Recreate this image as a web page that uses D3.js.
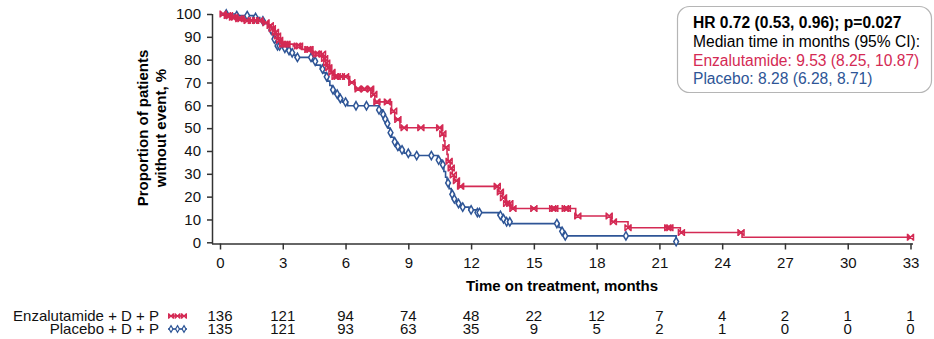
<!DOCTYPE html>
<html>
<head>
<meta charset="utf-8">
<script src="https://cdn.jsdelivr.net/npm/d3@7"></script>
<style>
  body { margin: 0; background: #fff; }
  text { font-family: "Liberation Sans", Arial, sans-serif; }
</style>
</head>
<body>
<svg id="chart" width="934" height="339"></svg>
<script>
var width = 934;
var height = 339;

var red = "#d42a54";
var blue = "#2e5596";

// time axis / number at risk
var months = [0, 3, 6, 9, 12, 15, 18, 21, 24, 27, 30, 33];
var enzaAtRisk = [136, 121, 94, 74, 48, 22, 12, 7, 4, 2, 1, 1];
var placAtRisk = [135, 121, 93, 63, 35, 9, 5, 2, 1, 0, 0, 0];
var yTicks = [0, 10, 20, 30, 40, 50, 60, 70, 80, 90, 100];

// Kaplan-Meier steps: [month, % without event after the step]
var enzaSteps = [[0.25,99.3],[0.5,98.6],[0.8,97.9],[1.1,97.1],[2.1,96.2],[2.3,95],[2.45,93.6],[2.6,92],
  [2.7,90.4],[2.8,88.5],[2.95,86.8],[3.5,86],[3.9,84.5],[4.4,82.5],[4.95,80.5],[5.05,78.5],[5.15,76.5],
  [5.3,74.5],[5.45,72.6],[6.2,70],[6.45,67.2],[7.3,64.8],[7.4,61.5],[8.2,57.5],[8.35,53.8],[8.6,50.2],
  [10.6,47.5],[10.7,44.5],[10.75,41.5],[10.85,38.5],[10.9,35.5],[11.0,32.5],[11.1,29.5],[11.2,27],
  [11.4,24.5],[13.3,22],[13.5,19.5],[13.65,17],[13.9,14.8],[17.0,11.5],[18.7,9],[19.5,6.4],[22.0,4.3],
  [24.95,2.2]];
var enzaEnd = 33.0;
var enzaCensored = [0.15,0.35,0.45,0.6,0.7,0.9,1.0,1.3,1.5,1.7,1.9,2.2,2.4,2.5,2.65,2.75,2.85,3.0,3.1,3.2,
  3.7,3.8,4.2,4.3,4.6,4.7,4.9,5.0,5.1,5.2,5.35,5.5,5.6,5.8,6.0,6.3,6.6,6.9,7.2,7.35,7.5,8.0,8.3,8.5,8.8,
  9.6,10.5,10.65,10.8,10.95,11.05,11.15,11.3,11.5,13.25,13.4,13.55,13.7,13.85,14.0,15.0,15.9,16.0,16.5,
  16.6,17.1,18.6,18.8,19.5,21.4,21.5,22.05,24.9,33.0];

var placSteps = [[0.8,99.3],[1.6,98.5],[1.9,97],[2.1,95.8],[2.3,94.5],[2.4,93],[2.5,91],[2.55,89],
  [2.62,87.5],[2.72,86],[3.0,85],[3.2,84],[3.35,83],[3.5,82],[3.6,81],[4.4,79.3],[4.6,77.6],[4.8,75.9],
  [4.95,74.2],[5.05,72.5],[5.15,70.6],[5.25,68.7],[5.35,66.8],[5.5,64.9],[5.65,63],[5.85,61.4],[6.1,59.8],
  [7.6,58],[7.75,56],[7.85,54],[7.95,52],[8.05,50],[8.12,48],[8.2,46],[8.3,44],[8.4,42],[8.55,40.5],
  [8.8,39],[9.1,38],[10.4,36],[10.6,34],[10.7,31],[10.78,28.5],[10.85,26],[10.95,23.5],[11.05,21],
  [11.15,19],[11.3,17],[11.5,15.4],[11.9,14.2],[12.3,13],[13.3,11.8],[13.5,10.3],[13.7,9],[13.9,8.2],
  [16.2,6.5],[16.3,4.8],[16.45,2.8],[21.8,0.3]];
var placEnd = 21.8;
var placCensored = [0.3,0.8,1.3,1.7,2.05,2.45,2.6,2.75,2.85,3.1,3.3,3.45,3.7,4.35,4.55,4.9,5.1,5.4,5.6,
  5.75,6.0,6.5,7.0,7.6,7.8,7.9,8.0,8.15,8.35,8.5,8.7,9.0,9.4,10.1,10.45,10.65,10.9,11.1,11.2,11.4,11.6,
  12.0,12.3,12.4,13.4,13.55,13.7,13.85,16.1,16.35,16.5,19.4,21.8];

var boxLines = [
  { text: "HR 0.72 (0.53, 0.96); p=0.027", color: "#000", bold: true },
  { text: "Median time in months (95% CI):", color: "#000", bold: false },
  { text: "Enzalutamide: 9.53 (8.25, 10.87)", color: red, bold: false },
  { text: "Placebo: 8.28 (6.28, 8.71)", color: blue, bold: false }
];

var svg = d3.select("#chart");

var x = d3.scaleLinear().domain([0, 33]).range([220, 910.5]);
var y = d3.scaleLinear().domain([0, 100]).range([242.3, 14]);

// axes
var xAxis = d3.axisBottom(x).tickValues(months).tickSize(6).tickSizeOuter(0);
var gx = svg.append("g")
    .attr("transform", "translate(0,243.5)")
    .call(xAxis);
gx.select(".domain").attr("d", "M212,0.5H913");
gx.selectAll("text").attr("font-size", 15).attr("fill", "#111").attr("dy", "1.05em");

var yAxis = d3.axisLeft(y).tickValues(yTicks).tickSize(5).tickSizeOuter(0);
var gy = svg.append("g")
    .attr("transform", "translate(212,0)")
    .call(yAxis);
gy.select(".domain").attr("d", "M0.5,14V244");
gy.selectAll("text").attr("font-size", 15).attr("fill", "#111").attr("dx", "-0.2em");

svg.selectAll(".domain, .tick line").attr("stroke", "#333").attr("stroke-width", 1.5);

svg.append("text")
    .attr("x", 562).attr("y", 291)
    .attr("text-anchor", "middle")
    .attr("font-size", 15).attr("font-weight", "bold")
    .text("Time on treatment, months");

var yt = svg.append("text")
    .attr("transform", "translate(0,128) rotate(-90)")
    .attr("text-anchor", "middle")
    .attr("font-size", 15).attr("font-weight", "bold");
yt.append("tspan").attr("x", 0).attr("y", 148).text("Proportion of patients");
yt.append("tspan").attr("x", 0).attr("y", 166).text("without event, %");

// step function helper
function survAt(steps, t) {
  var s = 100;
  steps.forEach(function (d) { if (d[0] <= t) s = d[1]; });
  return s;
}

function stepPoints(steps, end) {
  var pts = [[0, 100]];
  steps.forEach(function (d) { pts.push([d[0], d[1]]); });
  pts.push([end, steps[steps.length - 1][1]]);
  return pts;
}

var line = d3.line()
    .x(function (d) { return x(d[0]); })
    .y(function (d) { return y(d[1]); })
    .curve(d3.curveStepAfter);

var crossPath = "M-3,-3L3,3M-3,3L3,-3M-3,-3.5V3.5M3,-3.5V3.5";
var diamond = d3.symbol().type(d3.symbolDiamond).size(20)();

function drawCurve(steps, end, censored, color, marker) {
  svg.append("path")
      .datum(stepPoints(steps, end))
      .attr("fill", "none")
      .attr("stroke", color)
      .attr("stroke-width", 1.6)
      .attr("d", line);

  svg.append("g").selectAll("path")
      .data(censored)
      .enter().append("path")
      .attr("transform", function (t) { return "translate(" + x(t) + "," + y(survAt(steps, t)) + ")"; })
      .attr("d", marker)
      .attr("fill", marker === diamond ? "#fff" : "none")
      .attr("stroke", color)
      .attr("stroke-width", 1.5);
}

drawCurve(placSteps, placEnd, placCensored, blue, diamond);
drawCurve(enzaSteps, enzaEnd, enzaCensored, red, crossPath);

// info box
svg.append("rect")
    .attr("x", 677.5).attr("y", 6.5)
    .attr("width", 254).attr("height", 86)
    .attr("rx", 12)
    .attr("fill", "#fff")
    .attr("stroke", "#b5b5b5")
    .attr("stroke-width", 1.2);

svg.selectAll(".boxline")
    .data(boxLines)
    .enter().append("text")
    .attr("class", "boxline")
    .attr("x", 693)
    .attr("y", function (d, i) { return 28 + i * 18.8; })
    .attr("font-size", 15.6)
    .attr("font-weight", function (d) { return d.bold ? "bold" : "normal"; })
    .attr("fill", function (d) { return d.color; })
    .text(function (d) { return d.text; });

// number at risk table
var rows = [
  { label: "Enzalutamide + D + P", values: enzaAtRisk, color: red, marker: crossPath, y: 316 },
  { label: "Placebo + D + P", values: placAtRisk, color: blue, marker: diamond, y: 329 }
];

rows.forEach(function (r) {
  svg.append("text")
      .attr("x", 159).attr("y", r.y + 5)
      .attr("text-anchor", "end")
      .attr("font-size", 15)
      .attr("fill", "#111")
      .text(r.label);

  svg.append("line")
      .attr("x1", 168).attr("x2", 187)
      .attr("y1", r.y).attr("y2", r.y)
      .attr("stroke", r.color).attr("stroke-width", 1.6);
  svg.append("g").selectAll("path")
      .data([171, 177.5, 184])
      .enter().append("path")
      .attr("transform", function (d) { return "translate(" + d + "," + r.y + ") scale(0.8)"; })
      .attr("d", r.marker)
      .attr("fill", r.marker === diamond ? "#fff" : "none")
      .attr("stroke", r.color)
      .attr("stroke-width", 1.5);

  svg.append("g").selectAll("text")
      .data(r.values)
      .enter().append("text")
      .attr("x", function (d, i) { return x(months[i]); })
      .attr("y", r.y + 5)
      .attr("text-anchor", "middle")
      .attr("font-size", 15)
      .attr("fill", "#111")
      .text(function (d) { return d; });
});
</script>
</body>
</html>
